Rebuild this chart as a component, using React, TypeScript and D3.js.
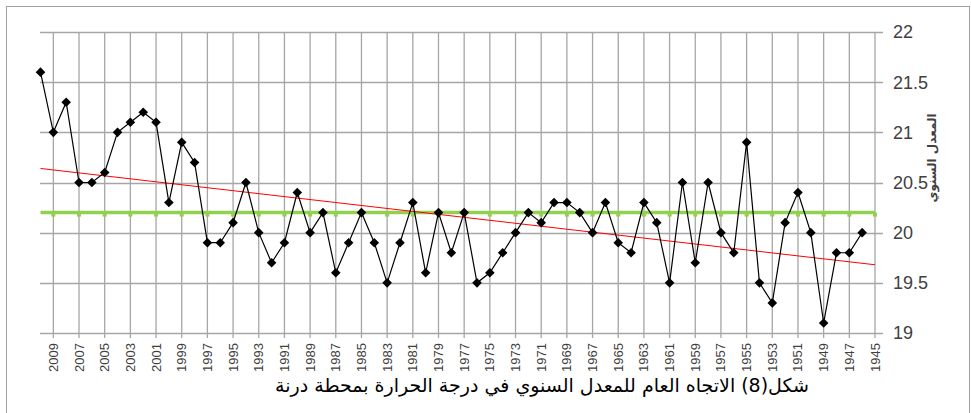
import React from 'react';
import * as d3 from 'd3';

// years run 1945..2010, 1945 has no value (blank category)
const years: number[] = d3.range(2010, 1944, -1);
const temps: (number | null)[] = [
  21.6, 21.0, 21.3, 20.5, 20.5, 20.6, 21.0, 21.1, 21.2, 21.1, // 2010-2001
  20.3, 20.9, 20.7, 19.9, 19.9, 20.1, 20.5, 20.0, 19.7, 19.9, // 2000-1991
  20.4, 20.0, 20.2, 19.6, 19.9, 20.2, 19.9, 19.5, 19.9, 20.3, // 1990-1981
  19.6, 20.2, 19.8, 20.2, 19.5, 19.6, 19.8, 20.0, 20.2, 20.1, // 1980-1971
  20.3, 20.3, 20.2, 20.0, 20.3, 19.9, 19.8, 20.3, 20.1, 19.5, // 1970-1961
  20.5, 19.7, 20.5, 20.0, 19.8, 20.9, 19.5, 19.3, 20.1, 20.4, // 1960-1951
  20.0, 19.1, 19.8, 19.8, 20.0, null,                         // 1950-1945
];
const meanValue = 20.2;
const trendEnds = [20.64, 19.68]; // trend at 2010 and 1945
const yTicks = [19, 19.5, 20, 20.5, 21, 21.5, 22];
const labelYears = years.filter((y) => y % 2 === 1);

const title = 'شكل(8) الاتجاه العام للمعدل السنوي في درجة الحرارة بمحطة درنة';
const yTitle = 'المعدل السنوي';

export default function App() {
  const width = 971;
  const height = 413;
  const left = 40.5;
  const right = 875;
  const top = 32;
  const bottom = 333;

  const x = d3.scalePoint<number>().domain(years).range([left, right]);
  const y = d3.scaleLinear().domain([19, 22]).range([bottom, top]);

  const pts = years
    .map((yr, i) => ({ yr, v: temps[i] }))
    .filter((d) => d.v !== null) as { yr: number; v: number }[];

  const line = d3
    .line<{ yr: number; v: number }>()
    .x((d) => x(d.yr)!)
    .y((d) => y(d.v));

  const diamond = d3.symbol().type(d3.symbolSquare).size(46)()!;
  const grid = '#a6a6a6';
  const font = "'Liberation Sans', Arial, sans-serif";

  return (
    <>
      <style>{`body{margin:0}`}</style>
      <svg width={width} height={height} style={{ display: 'block', background: '#fff' }}>
        <rect x={6.5} y={6.5} width={963} height={420} fill="#fff" stroke="#a0a0a0" />

        {/* horizontal gridlines, with outer ticks on the right */}
        {yTicks.map((t) => (
          <line key={'h' + t} x1={left - 0.5} x2={right + 8} y1={Math.round(y(t)) + 0.5} y2={Math.round(y(t)) + 0.5} stroke={grid} strokeWidth={1.3} />
        ))}
        {/* vertical gridlines every second year */}
        {labelYears.map((yr) => (
          <line key={'v' + yr} x1={x(yr)} x2={x(yr)} y1={top} y2={bottom + 5} stroke={grid} strokeWidth={1.3} />
        ))}

        {/* y tick labels */}
        {yTicks.map((t) => (
          <text key={'yl' + t} x={893} y={y(t)} dy="0.36em" fontSize={18} fill="#404040" fontFamily={font}>
            {t}
          </text>
        ))}
        {/* x tick labels */}
        {labelYears.map((yr) => (
          <text
            key={'xl' + yr}
            transform={`translate(${x(yr)! + 4.5},${bottom + 10}) rotate(-90)`}
            textAnchor="end"
            fontSize={13}
            fill="#404040"
            fontFamily={font}
          >
            {yr}
          </text>
        ))}

        {/* mean line */}
        <line x1={left} x2={right} y1={y(meanValue)} y2={y(meanValue)} stroke="#92d050" strokeWidth={3.5} />
        {labelYears.map((yr) => (
          <rect key={'m' + yr} x={x(yr)! - 2} y={y(meanValue)} width={4} height={4} fill="#92d050" />
        ))}

        {/* trend line */}
        <line x1={x(years[0])} x2={x(years[years.length - 1])} y1={y(trendEnds[0])} y2={y(trendEnds[1])} stroke="#ff0000" strokeWidth={1} />

        {/* data series */}
        <path d={line(pts)!} fill="none" stroke="#000" strokeWidth={1.2} />
        {pts.map((d) => (
          <path key={'p' + d.yr} d={diamond} transform={`translate(${x(d.yr)},${y(d.v)}) rotate(45)`} fill="#000" />
        ))}

        {/* axis title */}
        <text
          transform={`translate(936,158) rotate(-90)`}
          textAnchor="middle"
          fontSize={12}
          fontWeight="bold"
          fill="#404040"
          fontFamily="'DejaVu Sans', sans-serif"
          direction="rtl"
        >
          {yTitle}
        </text>

        {/* chart caption */}
        <text x={542} y={392} textAnchor="middle" fontSize={19} fill="#000" fontFamily="'DejaVu Sans', sans-serif" direction="rtl">
          {title}
        </text>
      </svg>
    </>
  );
}
